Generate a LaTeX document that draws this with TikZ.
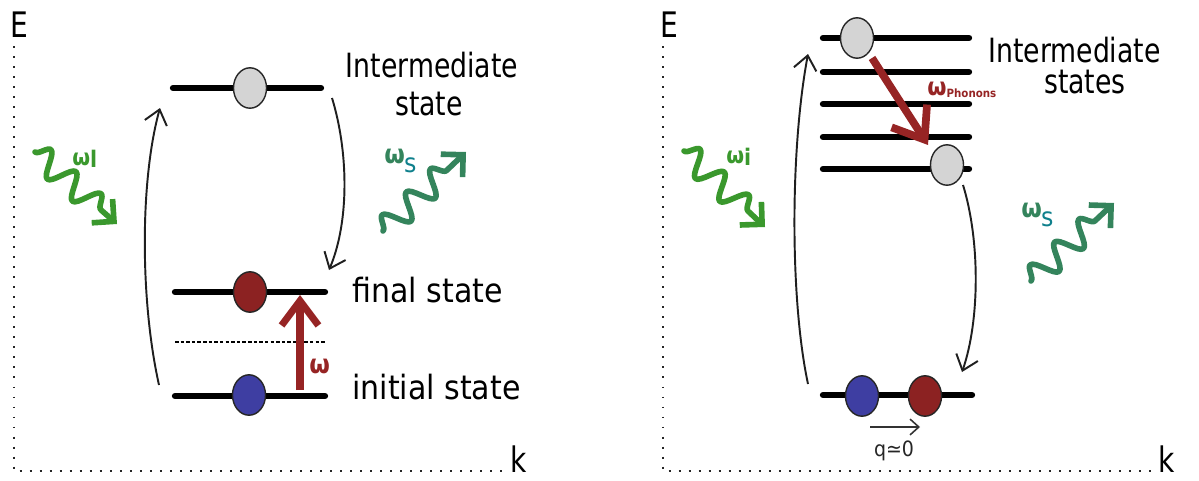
\documentclass[tikz,border=0pt]{standalone}
\usepackage{fontspec}
\setmainfont{DejaVu Sans}
\newfontfamily\labA{DejaVu Sans}[FakeStretch=0.8]
\newfontfamily\labB{DejaVu Sans}[FakeStretch=0.9]
\usetikzlibrary{arrows.meta,decorations.pathmorphing,shapes.geometric}
\definecolor{wgreen}{RGB}{58,152,45}
\definecolor{wsea}{RGB}{52,132,92}
\definecolor{wteal}{RGB}{15,128,140}
\definecolor{darkred}{RGB}{150,36,36}
\definecolor{ballred}{RGB}{140,34,34}
\definecolor{ballblue}{RGB}{62,62,162}
\definecolor{ballgray}{RGB}{212,212,212}
\tikzset{
  axisline/.style={line width=1.1pt, dash pattern=on 1.1pt off 4.6pt, black!85},
  level/.style={line width=3.6pt, line cap=round, black},
  thinlevel/.style={line width=0.7pt, dash pattern=on 2pt off 1.2pt, black},
  ball/.style={ellipse, draw=black!85, line width=0.8pt, minimum width=18.8pt, minimum height=23pt, inner sep=0pt},
  trans/.style={line width=1.1pt, black!88, -{Straight Barb[length=8pt,width=13pt]}},
  redarrow/.style={line width=4pt, darkred, -{Straight Barb[length=14pt,width=21pt]}},
  wave/.style={line width=3.2pt, line cap=round, line join=round, decorate,
    decoration={snake, amplitude=7pt, segment length=19pt, post length=8pt},
    -{Straight Barb[length=9pt,width=18pt]}},
  lbl/.style={inner sep=0pt, anchor=base west},
}
\begin{document}
\begin{tikzpicture}[x=0.02cm,y=-0.02cm]
\useasboundingbox (0,0) rectangle (1199,480);

% ---------------- left panel ----------------
\node[lbl, font=\labA\fontsize{20}{20}\selectfont] (E1) at (10,37) {E};
\node[lbl, font=\labA\fontsize{20}{20}\selectfont] (k1) at (510,472) {k};
\coordinate (ax1t) at (14,46);
\coordinate (ax1o) at (14,471);
\coordinate (ax1r) at (505,471);
\draw[axisline] (ax1t) -- (ax1o) -- (ax1r);

\draw[level] (173,88) -- (321,88);
\draw[level] (175,292) -- (325,292);
\draw[thinlevel] (175,342) -- (325,342);
\draw[level] (175,396) -- (325,396);

\node[ball, fill=ballgray] (g1) at (250,88) {};
\node[ball, fill=ballred] (r1) at (250,292) {};
\node[ball, fill=ballblue] (b1) at (249,395) {};

\coordinate (up1s) at (159,385);
\coordinate (up1e) at (160,108);
\draw[trans] (up1s) .. controls (140,300) and (140,180) .. (up1e);
\coordinate (dn1s) at (332,98);
\coordinate (dn1e) at (329,270);
\draw[trans] (dn1s) .. controls (348,150) and (350,220) .. (dn1e);

\coordinate (om1s) at (300,390);
\coordinate (om1e) at (300,295);
\draw[redarrow] (om1s) -- (om1e);
\node[lbl, text=darkred, font=\labB\bfseries\fontsize{15}{15}\selectfont] (om1) at (309,373) {ω};

\coordinate (wl1s) at (35,152);
\coordinate (wl1e) at (117,224);
\draw[wave, wgreen] (wl1s) -- (wl1e);
\node[lbl, text=wgreen, font=\labB\bfseries\fontsize{13}{13}\selectfont] (wl1) at (72,165) {ω\raisebox{-1.5pt}{l}};

\coordinate (ws1s) at (383,231);
\coordinate (ws1e) at (466,152);
\draw[wave, wsea] (ws1s) -- (ws1e);
\node[lbl, font=\labB\fontsize{15}{15}\selectfont] (ws1) at (384,163) {\textcolor{wsea}{\bfseries ω}\kern-0.5pt\raisebox{-5.5pt}{\textcolor{wteal}{s}}};

\node[inner sep=0pt, anchor=base, font=\labA\fontsize{19}{19}\selectfont] (int1) at (432,77) {Intermediate};
\node[inner sep=0pt, anchor=base, font=\labA\fontsize{19}{19}\selectfont] (st1) at (429,115) {state};
\node[lbl, font=\labB\fontsize{19}{19}\selectfont] (fin1) at (352,302) {final state};
\node[lbl, font=\labB\fontsize{19}{19}\selectfont] (ini1) at (352,399) {initial state};

% ---------------- right panel ----------------
\node[lbl, font=\labA\fontsize{20}{20}\selectfont] (E2) at (660,37) {E};
\node[lbl, font=\labA\fontsize{20}{20}\selectfont] (k2) at (1158,472) {k};
\coordinate (ax2t) at (663,46);
\coordinate (ax2o) at (663,471);
\coordinate (ax2r) at (1152,471);
\draw[axisline] (ax2t) -- (ax2o) -- (ax2r);

\draw[level] (823,38) -- (969,38);
\draw[level] (823,72) -- (969,72);
\draw[level] (823,104) -- (969,104);
\draw[level] (823,137) -- (969,137);
\draw[level] (823,169) -- (969,169);
\draw[level] (823,395) -- (972,395);

\node[ball, fill=ballgray] (g2) at (857,38) {};
\node[ball, fill=ballgray] (g3) at (947,165) {};
\node[ball, fill=ballblue] (b2) at (862,396) {};
\node[ball, fill=ballred] (r2) at (925,396) {};

\coordinate (up2s) at (808,384);
\coordinate (up2e) at (808,54);
\draw[trans] (up2s) .. controls (790,300) and (790,150) .. (up2e);
\coordinate (dn2s) at (963,185);
\coordinate (dn2e) at (962,372);
\draw[trans] (dn2s) .. controls (980,240) and (980,320) .. (dn2e);

\coordinate (ph2s) at (872,58);
\coordinate (ph2e) at (928,145);
\draw[redarrow, line width=4.4pt, -{Straight Barb[length=16pt,width=24pt]}] (ph2s) -- (ph2e);
\node[lbl, text=darkred, font=\labB\bfseries\fontsize{14}{14}\selectfont] (ph2) at (927,95)
  {ω\raisebox{-1.2pt}{\fontsize{6.5}{6.5}\selectfont Phonons}};

\coordinate (q2s) at (870,427);
\coordinate (q2e) at (920,427);
\draw[line width=0.9pt, black!80, -{Straight Barb[length=5pt,width=9pt]}] (q2s) -- (q2e);
\node[inner sep=0pt, anchor=base, text=black!85, font=\labB\fontsize{12}{12}\selectfont] (q2) at (894,456) {q≃0};

\coordinate (wi2s) at (684,151);
\coordinate (wi2e) at (765,227);
\draw[wave, wgreen] (wi2s) -- (wi2e);
\node[lbl, text=wgreen, font=\labB\bfseries\fontsize{13}{13}\selectfont] (wi2) at (726,163) {ω\raisebox{-1.5pt}{i}};

\coordinate (ws2s) at (1031,281);
\coordinate (ws2e) at (1114,203);
\draw[wave, wsea] (ws2s) -- (ws2e);
\node[lbl, font=\labB\fontsize{15}{15}\selectfont] (ws2) at (1021,217) {\textcolor{wsea}{\bfseries ω}\kern-0.5pt\raisebox{-5.5pt}{\textcolor{wteal}{s}}};

\node[lbl, font=\labA\fontsize{19}{19}\selectfont] (int2) at (988,62) {Intermediate};
\node[inner sep=0pt, anchor=base, font=\labA\fontsize{19}{19}\selectfont] (st2) at (1085,93) {states};
\end{tikzpicture}
\end{document}
